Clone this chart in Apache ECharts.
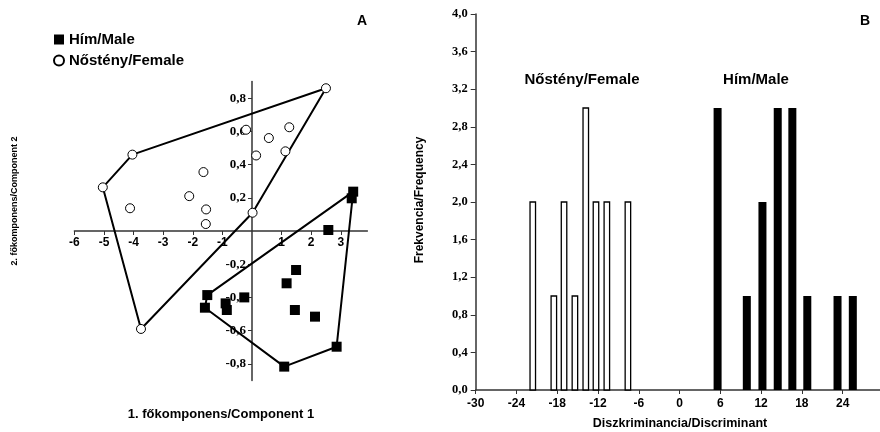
<!DOCTYPE html>
<html>
<head>
<meta charset="utf-8">
<script src="https://cdn.jsdelivr.net/npm/echarts@6/dist/echarts.min.js"></script>
<style>
  html, body { margin: 0; padding: 0; background: #fff; }
  #chart { width: 880px; height: 432px; }
</style>
</head>
<body>
<div id="chart"></div>
<script>
// Principal component scores (panel A)
const femaleX = [2.50, -4.04, -0.20, 0.57, 1.26, 0.14, 1.13, -1.64, -2.12, -4.12, -1.55, -1.56, 0.02, -5.04, -3.75];
const femaleY = [0.86, 0.46, 0.61, 0.56, 0.625, 0.455, 0.48, 0.355, 0.21, 0.137, 0.13, 0.042, 0.11, 0.263, -0.59];
const maleX = [3.42, 3.37, 2.58, 1.49, 1.17, 1.45, 2.13, 2.86, 1.09, -1.51, -1.59, -0.89, -0.85, -0.26];
const maleY = [0.237, 0.197, 0.006, -0.235, -0.315, -0.476, -0.516, -0.697, -0.817, -0.386, -0.462, -0.436, -0.476, -0.40];

// Discriminant score histogram (panel B)
const femaleScore = [-21.6, -18.5, -17.0, -15.4, -13.8, -12.3, -10.7, -7.6];
const femaleFreq = [2, 1, 2, 1, 3, 2, 2, 2];
const maleScore = [5.6, 9.9, 12.2, 14.45, 16.6, 18.8, 23.25, 25.5];
const maleFreq = [3, 1, 2, 3, 3, 1, 1, 1];

// Tick values
const pcaXTicks = [-6, -5, -4, -3, -2, -1, 1, 2, 3];
const pcaYTicks = [-0.8, -0.6, -0.4, -0.2, 0.2, 0.4, 0.6, 0.8];
const discTicks = [-30, -24, -18, -12, -6, 0, 6, 12, 18, 24];
const freqTicks = [0, 0.4, 0.8, 1.2, 1.6, 2.0, 2.4, 2.8, 3.2, 3.6, 4.0];

const SANS = 'Liberation Sans, Arial, sans-serif';
const SERIF = 'Liberation Serif, Times New Roman, serif';

function zip(xs, ys) { return xs.map((x, i) => [x, ys[i]]); }

// Convex hull (monotone chain), returned closed
function hull(pts) {
  const p = pts.slice().sort((a, b) => a[0] - b[0] || a[1] - b[1]);
  const cross = (o, a, b) => (a[0] - o[0]) * (b[1] - o[1]) - (a[1] - o[1]) * (b[0] - o[0]);
  const lower = [], upper = [];
  for (const q of p) {
    while (lower.length >= 2 && cross(lower[lower.length - 2], lower[lower.length - 1], q) <= 0) lower.pop();
    lower.push(q);
  }
  for (let i = p.length - 1; i >= 0; i--) {
    const q = p[i];
    while (upper.length >= 2 && cross(upper[upper.length - 2], upper[upper.length - 1], q) <= 0) upper.pop();
    upper.push(q);
  }
  const h = lower.slice(0, -1).concat(upper.slice(0, -1));
  h.push(h[0]);
  return h;
}

const femalePts = zip(femaleX, femaleY);
const malePts = zip(maleX, maleY);

const comma = (v, d) => v.toFixed(d).replace('.', ',');

function barRenderer(width) {
  return function (params, api) {
    const x = api.value(0), h = api.value(1);
    const top = api.coord([x, h]);
    const base = api.coord([x, 0]);
    return {
      type: 'rect',
      shape: { x: top[0] - width / 2, y: top[1], width: width, height: base[1] - top[1] },
      style: api.style()
    };
  };
}

// Panel A grid and ranges; the axes cross at the origin, so each axis is
// shifted inward from the grid edge to where the other axis reads zero.
const gridA = { left: 74.4, top: 81.6, width: 293, height: 298.8 };
const xRangeA = [-6, 3.9];
const yRangeA = [-0.9, 0.9];
const yAxisShiftA = (0 - xRangeA[0]) / (xRangeA[1] - xRangeA[0]) * gridA.width;
const xAxisShiftA = (0 - yRangeA[0]) / (yRangeA[1] - yRangeA[0]) * gridA.height;

const axisLine = { lineStyle: { color: '#333', width: 1.5 } };

const chart = echarts.init(document.getElementById('chart'), null, { renderer: 'canvas' });
chart.setOption({
  animation: false,
  backgroundColor: '#fff',
  legend: {
    data: ['Hím/Male', 'Nőstény/Female'],
    orient: 'vertical',
    left: 48,
    top: 27,
    itemGap: 6,
    itemWidth: 10,
    itemHeight: 10,
    textStyle: { fontFamily: SANS, fontWeight: 'bold', fontSize: 15, color: '#000' }
  },
  grid: [
    gridA,
    { left: 475.7, top: 14, width: 404.6, height: 376 }
  ],
  xAxis: [
    {
      type: 'value', gridIndex: 0, min: xRangeA[0], max: xRangeA[1],
      position: 'bottom', offset: -xAxisShiftA,
      axisLine: Object.assign({ onZero: false }, axisLine),
      axisTick: { show: true, length: 4, customValues: pcaXTicks, lineStyle: { color: '#333' } },
      axisLabel: {
        customValues: pcaXTicks, margin: 6,
        formatter: v => String(v),
        fontFamily: SANS, fontWeight: 'bold', fontSize: 12, color: '#000'
      },
      splitLine: { show: false }
    },
    {
      type: 'value', gridIndex: 1, min: -30, max: 29.5,
      axisLine: Object.assign({ onZero: false }, axisLine),
      axisTick: { show: true, length: 4, customValues: discTicks, lineStyle: { color: '#333' } },
      axisLabel: {
        customValues: discTicks, margin: 8,
        formatter: v => String(v),
        fontFamily: SANS, fontWeight: 'bold', fontSize: 12, color: '#000'
      },
      splitLine: { show: false }
    }
  ],
  yAxis: [
    {
      type: 'value', gridIndex: 0, min: yRangeA[0], max: yRangeA[1],
      position: 'left', offset: -yAxisShiftA,
      axisLine: Object.assign({ onZero: false }, axisLine),
      axisTick: { show: true, length: 4, customValues: pcaYTicks, lineStyle: { color: '#333' } },
      axisLabel: {
        customValues: pcaYTicks, margin: 6,
        formatter: v => comma(v, 1),
        fontFamily: SERIF, fontWeight: 'bold', fontSize: 13, color: '#000'
      },
      splitLine: { show: false }
    },
    {
      type: 'value', gridIndex: 1, min: 0, max: 4,
      axisLine: Object.assign({ onZero: false }, axisLine),
      axisTick: { show: true, length: 5, customValues: freqTicks, lineStyle: { color: '#333' } },
      axisLabel: {
        customValues: freqTicks, margin: 8,
        formatter: v => comma(v, 1),
        fontFamily: SERIF, fontWeight: 'bold', fontSize: 12.5, color: '#000'
      },
      splitLine: { show: false }
    }
  ],
  series: [
    {
      name: 'femaleHull', type: 'line', xAxisIndex: 0, yAxisIndex: 0,
      data: hull(femalePts), symbol: 'none', z: 2,
      lineStyle: { color: '#000', width: 2 }
    },
    {
      name: 'maleHull', type: 'line', xAxisIndex: 0, yAxisIndex: 0,
      data: hull(malePts), symbol: 'none', z: 2,
      lineStyle: { color: '#000', width: 2 }
    },
    {
      name: 'Hím/Male', type: 'scatter', xAxisIndex: 0, yAxisIndex: 0,
      data: malePts, symbol: 'rect', symbolSize: 10, z: 3,
      itemStyle: { color: '#000', opacity: 1 }
    },
    {
      name: 'Nőstény/Female', type: 'scatter', xAxisIndex: 0, yAxisIndex: 0,
      data: femalePts, symbol: 'circle', symbolSize: 9, z: 3,
      itemStyle: { color: '#fff', borderColor: '#000', borderWidth: 1, opacity: 1 }
    },
    {
      name: 'femaleBars', type: 'custom', xAxisIndex: 1, yAxisIndex: 1,
      data: zip(femaleScore, femaleFreq),
      renderItem: barRenderer(5.5),
      itemStyle: { color: '#fff', borderColor: '#000', borderWidth: 1.3 },
      encode: { x: 0, y: 1 }
    },
    {
      name: 'maleBars', type: 'custom', xAxisIndex: 1, yAxisIndex: 1,
      data: zip(maleScore, maleFreq),
      renderItem: barRenderer(8),
      itemStyle: { color: '#000' },
      encode: { x: 0, y: 1 }
    }
  ],
  graphic: [
    { type: 'text', left: 357, top: 14, style: { text: 'A', fontFamily: SANS, fontWeight: 'bold', fontSize: 14, fill: '#000' } },
    { type: 'text', left: 860, top: 14, style: { text: 'B', fontFamily: SANS, fontWeight: 'bold', fontSize: 14, fill: '#000' } },
    { type: 'text', x: 221, y: 414, style: { text: '1. főkomponens/Component 1', fontFamily: SANS, fontWeight: 'bold', fontSize: 13, fill: '#000', align: 'center', verticalAlign: 'middle' } },
    { type: 'text', x: 15, y: 201, rotation: Math.PI / 2, style: { text: '2. főkomponens/Component 2', fontFamily: SANS, fontWeight: 'bold', fontSize: 9, fill: '#000', align: 'center', verticalAlign: 'middle' } },
    { type: 'text', x: 420, y: 200, rotation: Math.PI / 2, style: { text: 'Frekvencia/Frequency', fontFamily: SANS, fontWeight: 'bold', fontSize: 12, fill: '#000', align: 'center', verticalAlign: 'middle' } },
    { type: 'text', x: 680, y: 424, style: { text: 'Diszkriminancia/Discriminant', fontFamily: SANS, fontWeight: 'bold', fontSize: 12.5, fill: '#000', align: 'center', verticalAlign: 'middle' } },
    { type: 'text', x: 582, y: 80, style: { text: 'Nőstény/Female', fontFamily: SANS, fontWeight: 'bold', fontSize: 15, fill: '#000', align: 'center', verticalAlign: 'middle' } },
    { type: 'text', x: 756, y: 80, style: { text: 'Hím/Male', fontFamily: SANS, fontWeight: 'bold', fontSize: 15, fill: '#000', align: 'center', verticalAlign: 'middle' } }
  ]
});
</script>
</body>
</html>
